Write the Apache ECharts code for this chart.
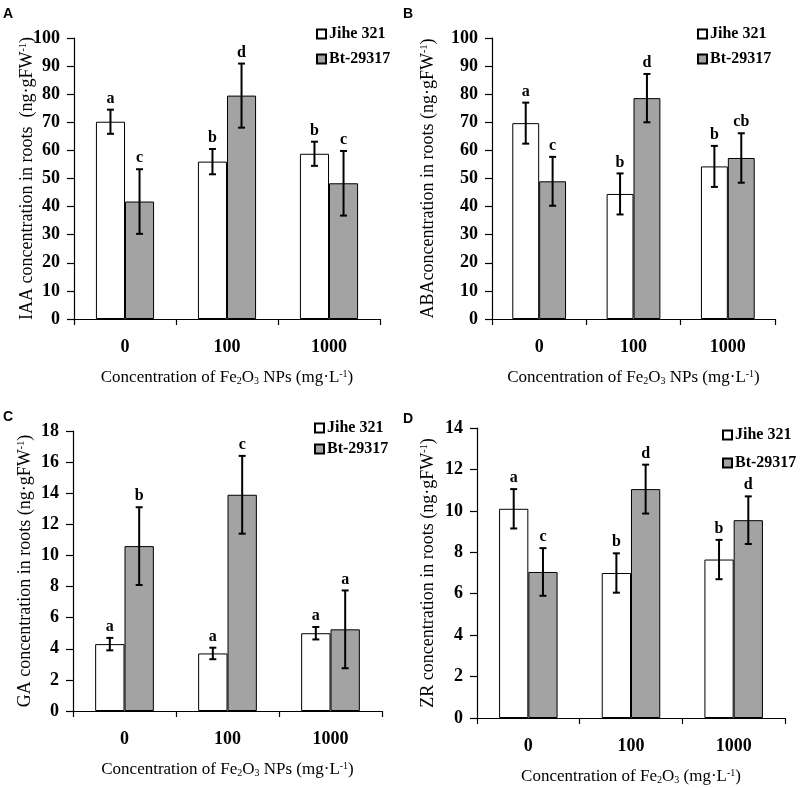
<!DOCTYPE html>
<html>
<head>
<meta charset="utf-8">
<script src="https://cdn.jsdelivr.net/npm/echarts@6/dist/echarts.min.js"></script>
<style>
html,body{margin:0;padding:0;background:#fff;}
#chart{width:800px;height:788px;}
</style>
</head>
<body>
<div id="chart"></div>
<script>
// ---------- DATA ----------
const categories = ['0', '100', '1000'];
const seriesNames = ['Jihe 321', 'Bt-29317'];

const iaaJihe = [70.2, 56.0, 58.8];
const iaaJiheErr = [4.3, 4.5, 4.3];
const iaaJiheSig = ['a', 'b', 'b'];
const iaaBt = [41.8, 79.5, 48.3];
const iaaBtErr = [11.5, 11.4, 11.5];
const iaaBtSig = ['c', 'd', 'c'];

const abaJihe = [69.7, 44.5, 54.3];
const abaJiheErr = [7.3, 7.3, 7.3];
const abaJiheSig = ['a', 'b', 'b'];
const abaBt = [49.0, 78.6, 57.3];
const abaBtErr = [8.7, 8.6, 8.8];
const abaBtSig = ['c', 'd', 'cb'];

const gaJihe = [4.3, 3.7, 5.0];
const gaJiheErr = [0.4, 0.37, 0.4];
const gaJiheSig = ['a', 'a', 'a'];
const gaBt = [10.6, 13.9, 5.25];
const gaBtErr = [2.5, 2.5, 2.5];
const gaBtSig = ['b', 'c', 'a'];

const zrJihe = [10.1, 7.0, 7.65];
const zrJiheErr = [0.95, 0.95, 0.95];
const zrJiheSig = ['a', 'b', 'b'];
const zrBt = [7.05, 11.05, 9.55];
const zrBtErr = [1.15, 1.18, 1.15];
const zrBtSig = ['c', 'd', 'd'];

const yMax = [100, 100, 18, 14];
const yInterval = [10, 10, 2, 2];
const panelLetters = ['A', 'B', 'C', 'D'];
const yNames = [
  'IAA concentration in roots  (ng·gFW{sup|-1})',
  'ABAconcentration in roots (ng·gFW{sup|-1})',
  'GA concentration in roots (ng·gFW{sup|-1})',
  'ZR concentration in roots (ng·gFW{sup|-1})'
];
const xNames = [
  'Concentration of Fe{sub|2}O{sub|3} NPs (mg·L{sup|-1})',
  'Concentration of Fe{sub|2}O{sub|3} NPs (mg·L{sup|-1})',
  'Concentration of Fe{sub|2}O{sub|3} NPs (mg·L{sup|-1})',
  'Concentration of Fe{sub|2}O{sub|3} (mg·L{sup|-1})'
];

// ---------- LAYOUT ----------
const grids = [
  {left: 74, top: 38, width: 306, height: 281},
  {left: 492, top: 38, width: 283, height: 281},
  {left: 73, top: 431, width: 309, height: 280},
  {left: 477, top: 428, width: 308, height: 290}
];
const yNameGaps = [38, 55, 39, 40];
const xNameGap = 50;
const legendPos = [
  {left: 311, top: 21, itemGap: 9},
  {left: 692, top: 21, itemGap: 9},
  {left: 309, top: 415, itemGap: 5},
  {left: 717, top: 422, itemGap: 12}
];
const letterPos = [[3, 7], [403, 7], [3, 410], [403, 412]];

const panels = [
  {j: iaaJihe, je: iaaJiheErr, js: iaaJiheSig, b: iaaBt, be: iaaBtErr, bs: iaaBtSig},
  {j: abaJihe, je: abaJiheErr, js: abaJiheSig, b: abaBt, be: abaBtErr, bs: abaBtSig},
  {j: gaJihe, je: gaJiheErr, js: gaJiheSig, b: gaBt, be: gaBtErr, bs: gaBtSig},
  {j: zrJihe, je: zrJiheErr, js: zrJiheSig, b: zrBt, be: zrBtErr, bs: zrBtSig}
];

const SERIF = '"Liberation Serif", "Times New Roman", serif';
const CAT_GAP = 0.43;
const BAR_COLORS = ['#ffffff', '#a3a3a3'];

const rich = {
  sup: {fontSize: 10, fontFamily: SERIF, color: '#000', verticalAlign: 'top', padding: [0, 0, 6, 0]},
  sub: {fontSize: 10, fontFamily: SERIF, color: '#000', verticalAlign: 'bottom', padding: [6, 0, 0, 0]}
};

function errSeries(p, values, errs, sigs, side) {
  return {
    type: 'custom',
    xAxisIndex: p, yAxisIndex: p,
    z: 5,
    silent: true,
    data: values.map((v, i) => [i, v, errs[i]]),
    renderItem: function (params, api) {
      const i = api.value(0), v = api.value(1), e = api.value(2);
      const band = api.size([1, 0])[0];
      const bw = band * (1 - CAT_GAP) / 2;
      const x = api.coord([i, v])[0] + side * bw / 2;
      const yt = api.coord([i, v + e])[1];
      const yb = api.coord([i, v - e])[1];
      const cap = 3.5;
      const ls = {stroke: '#000', lineWidth: 2};
      return {
        type: 'group',
        children: [
          {type: 'line', shape: {x1: x, y1: yt, x2: x, y2: yb}, style: ls},
          {type: 'line', shape: {x1: x - cap, y1: yt, x2: x + cap, y2: yt}, style: ls},
          {type: 'line', shape: {x1: x - cap, y1: yb, x2: x + cap, y2: yb}, style: ls},
          {type: 'text', style: {text: sigs[params.dataIndex], x: x, y: yt - 3,
            align: 'center', verticalAlign: 'bottom',
            font: 'bold 16px ' + SERIF, fill: '#000'}}
        ]
      };
    }
  };
}

const option = {
  backgroundColor: '#fff',
  animation: false,
  grid: grids,
  legend: legendPos.map(l => ({
    data: seriesNames, orient: 'vertical', left: l.left, top: l.top, itemGap: l.itemGap,
    icon: 'rect', itemWidth: 9, itemHeight: 9, selectedMode: false,
    textStyle: {fontFamily: SERIF, fontSize: 16, fontWeight: 'bold', color: '#000', padding: [0, 0, 0, -2]}
  })),
  xAxis: grids.map((g, p) => ({
    type: 'category', gridIndex: p, data: categories,
    axisLine: {lineStyle: {color: '#000', width: 1.2}},
    axisTick: {show: true, length: 6, lineStyle: {color: '#000', width: 1.2}},
    axisLabel: {fontFamily: SERIF, fontSize: 18, fontWeight: 'bold', color: '#000', margin: 19},
    name: xNames[p], nameLocation: 'middle', nameGap: xNameGap, nameMoveOverlap: false,
    nameTextStyle: {fontFamily: SERIF, fontSize: 17, color: '#000', rich: rich}
  })),
  yAxis: grids.map((g, p) => ({
    type: 'value', gridIndex: p, min: 0, max: yMax[p], interval: yInterval[p],
    splitLine: {show: false},
    axisLine: {show: true, lineStyle: {color: '#000', width: 1.2}},
    axisTick: {show: true, length: 7, lineStyle: {color: '#000', width: 1.2}},
    axisLabel: {fontFamily: SERIF, fontSize: 18, fontWeight: 'bold', color: '#000', margin: 14},
    name: yNames[p], nameLocation: 'middle', nameGap: yNameGaps[p], nameRotate: 90,
    nameMoveOverlap: false,
    nameTextStyle: {fontFamily: SERIF, fontSize: 18, color: '#000', rich: rich}
  })),
  graphic: panelLetters.map((t, p) => ({
    type: 'text', left: letterPos[p][0], top: letterPos[p][1],
    style: {text: t, font: 'bold 14px "Liberation Sans", Arial, sans-serif', fill: '#000'}
  })),
  series: []
};

panels.forEach((d, p) => {
  option.series.push({
    name: seriesNames[0], type: 'bar', xAxisIndex: p, yAxisIndex: p,
    data: d.j, barGap: '0%', barCategoryGap: (CAT_GAP * 100) + '%',
    itemStyle: {color: BAR_COLORS[0], borderColor: '#000', borderWidth: 1}
  });
  option.series.push({
    name: seriesNames[1], type: 'bar', xAxisIndex: p, yAxisIndex: p,
    data: d.b, barGap: '0%', barCategoryGap: (CAT_GAP * 100) + '%',
    itemStyle: {color: BAR_COLORS[1], borderColor: '#000', borderWidth: 1}
  });
  option.series.push(errSeries(p, d.j, d.je, d.js, -1));
  option.series.push(errSeries(p, d.b, d.be, d.bs, 1));
});

const chart = echarts.init(document.getElementById('chart'), null, {renderer: 'canvas'});
chart.setOption(option);
</script>
</body>
</html>
